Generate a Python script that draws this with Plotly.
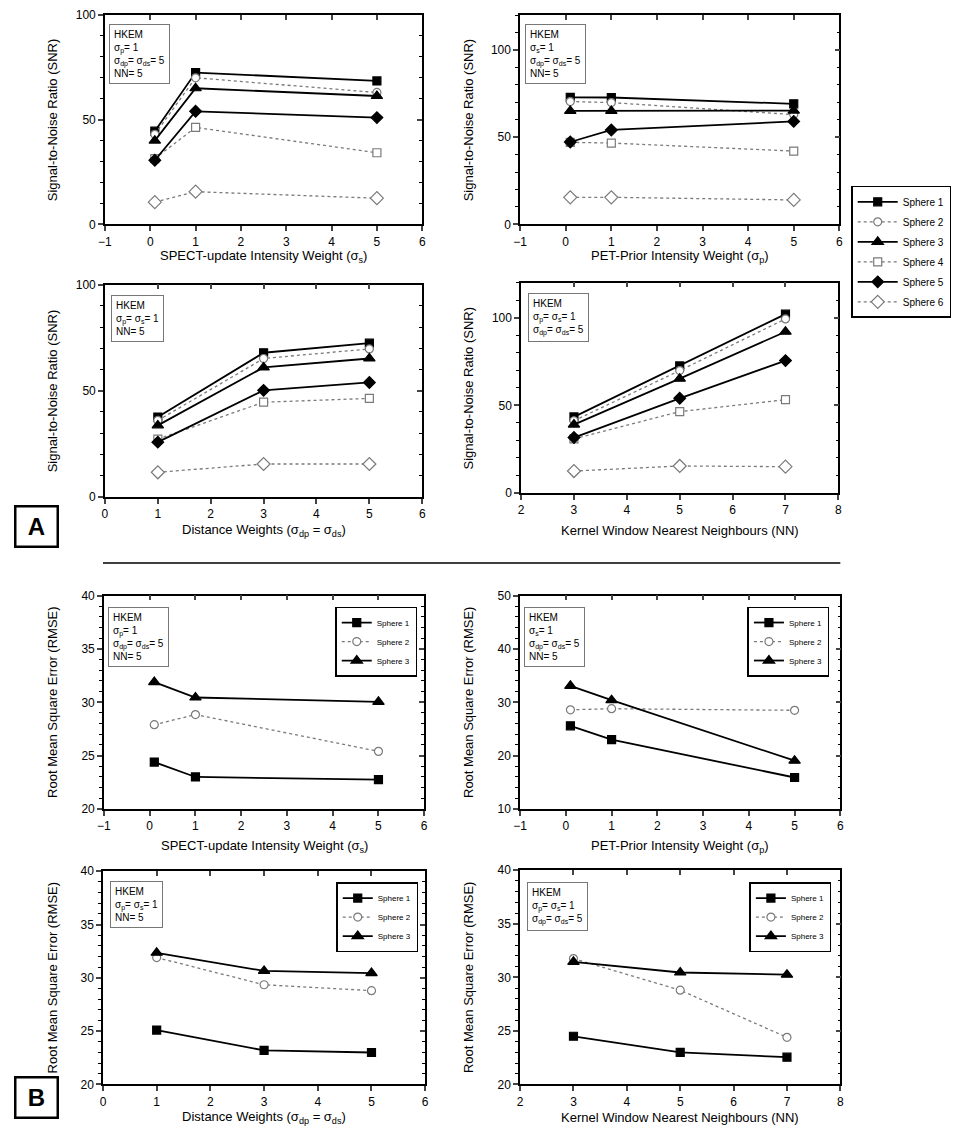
import plotly.graph_objects as go

# page body has an 8px margin, so the figure is a bit smaller and shifted
OFF = 8
W, H = 959 - OFF, 1138 - 2 * OFF

# ---- data ----
spheres = ["Sphere 1", "Sphere 2", "Sphere 3", "Sphere 4", "Sphere 5", "Sphere 6"]

x_sigma = [0.1, 1, 5]
x_dist = [1, 3, 5]
x_nn = [3, 5, 7]

# SNR, panel A
snr_spect = [
    [44.5, 72.5, 68.5],
    [43.0, 70.0, 63.0],
    [40.0, 65.0, 61.3],
    [31.4, 46.3, 34.2],
    [30.6, 54.0, 51.0],
    [10.6, 15.6, 12.5],
]
snr_pet = [
    [72.8, 72.7, 69.1],
    [70.4, 69.8, 62.9],
    [65.0, 65.0, 65.2],
    [47.0, 46.6, 42.0],
    [47.2, 54.1, 59.0],
    [15.5, 15.5, 14.0],
]
snr_dist = [
    [37.6, 67.9, 72.4],
    [36.0, 65.2, 69.7],
    [33.7, 61.0, 65.2],
    [27.2, 44.6, 46.4],
    [25.8, 50.2, 53.9],
    [11.6, 15.5, 15.5],
]
snr_nn = [
    [43.4, 72.5, 102.0],
    [41.2, 69.8, 99.3],
    [39.0, 65.2, 92.0],
    [30.9, 46.4, 53.2],
    [31.6, 54.0, 75.5],
    [12.5, 15.4, 15.0],
]

# RMSE, panel B
rmse_spect = [
    [24.4, 23.0, 22.75],
    [27.9, 28.85, 25.4],
    [31.9, 30.45, 30.05],
]
rmse_pet = [
    [25.6, 23.0, 15.9],
    [28.6, 28.8, 28.5],
    [33.1, 30.4, 19.05],
]
rmse_dist = [
    [25.1, 23.2, 23.0],
    [31.9, 29.35, 28.8],
    [32.35, 30.65, 30.45],
]
rmse_nn = [
    [24.5, 23.0, 22.55],
    [31.75, 28.8, 24.4],
    [31.45, 30.45, 30.25],
]

title_spect = "SPECT-update Intensity Weight (σ<sub>s</sub>)"
title_pet = "PET-Prior Intensity Weight (σ<sub>p</sub>)"
title_dist = "Distance Weights (σ<sub>dp</sub> = σ<sub>ds</sub>)"
title_nn = "Kernel Window Nearest Neighbours (NN)"
title_snr = "Signal-to-Noise Ratio (SNR)"
title_rmse = "Root Mean Square Error (RMSE)"

txt_spect = "HKEM<br>σ<sub>p</sub>= 1<br>σ<sub>dp</sub>= σ<sub>ds</sub>= 5<br>NN= 5"
txt_pet = "HKEM<br>σ<sub>s</sub>= 1<br>σ<sub>dp</sub>= σ<sub>ds</sub>= 5<br>NN= 5"
txt_dist = "HKEM<br>σ<sub>p</sub>= σ<sub>s</sub>= 1<br>NN= 5"
txt_nn = "HKEM<br>σ<sub>p</sub>= σ<sub>s</sub>= 1<br>σ<sub>dp</sub>= σ<sub>ds</sub>= 5"

# ---- styles ----
GREY = "#7a7a7a"
styles = [
    dict(symbol="square", fill="black", edge="black", dash="solid", lc="black", lw=1.8, size=8),
    dict(symbol="circle", fill="white", edge=GREY, dash="dot", lc=GREY, lw=1.3, size=8),
    dict(symbol="triangle-up", fill="black", edge="black", dash="solid", lc="black", lw=1.8, size=10),
    dict(symbol="square", fill="white", edge=GREY, dash="dot", lc=GREY, lw=1.3, size=8),
    dict(symbol="diamond", fill="black", edge="black", dash="solid", lc="black", lw=1.8, size=9),
    dict(symbol="diamond", fill="white", edge=GREY, dash="dot", lc=GREY, lw=1.3, size=10),
]

# panel boxes in reference pixels: left, right, top, bottom
panels = [
    dict(box=(99, 420, 8, 220), x=x_sigma, ys=snr_spect, xr=[-1, 6], yr=[0, 100], dy=50, my=10,
         xt=title_spect, yt=title_snr, txt=txt_spect, tpos=(103, 17), xty=253, leg="legend"),
    dict(box=(519, 842, 8, 220), x=x_sigma, ys=snr_pet, xr=[-1, 6], yr=[0, 120], dy=50, my=10,
         xt=title_pet, yt=title_snr, txt=txt_pet, tpos=(524, 17), xty=253, leg=None),
    dict(box=(99, 420, 281, 496), x=x_dist, ys=snr_dist, xr=[0, 6], yr=[0, 100], dy=50, my=10,
         xt=title_dist, yt=title_snr, txt=txt_dist, tpos=(105, 292), xty=530, leg=None),
    dict(box=(520, 841, 279, 492), x=x_nn, ys=snr_nn, xr=[2, 8], yr=[0, 120], dy=50, my=10,
         xt=title_nn, yt=title_snr, txt=txt_nn, tpos=(527, 290), xty=530, leg=None),
    dict(box=(98, 422, 596, 812), x=x_sigma, ys=rmse_spect, xr=[-1, 6], yr=[20, 40], dy=5, my=1,
         xt=title_spect, yt=title_rmse, txt=txt_spect, tpos=(102, 607), xty=850, leg="legend2",
         lpos=(332, 607)),
    dict(box=(519, 843, 596, 812), x=x_sigma, ys=rmse_pet, xr=[-1, 6], yr=[10, 50], dy=10, my=2,
         xt=title_pet, yt=title_rmse, txt=txt_pet, tpos=(523, 607), xty=850, leg="legend3",
         lpos=(749, 607)),
    dict(box=(97, 423, 875, 1091), x=x_dist, ys=rmse_dist, xr=[0, 6], yr=[20, 40], dy=5, my=1,
         xt=title_dist, yt=title_rmse, txt=txt_dist, tpos=(104, 885), xty=1124, leg="legend4",
         lpos=(333, 886)),
    dict(box=(519, 843, 874, 1091), x=x_nn, ys=rmse_nn, xr=[2, 8], yr=[20, 40], dy=5, my=1,
         xt=title_nn, yt=title_rmse, txt=txt_nn, tpos=(526, 886), xty=1124, leg="legend5",
         lpos=(751, 886)),
]

FONT = "Arial, Liberation Sans, Helvetica, sans-serif"


def px(v):
    return min(1.0, max(0.0, (v - OFF) / W))


def py(v):
    return min(1.0, max(0.0, 1 - (v - OFF) / H))


fig = go.Figure()
layout = {}
annotations = []

for i, p in enumerate(panels, start=1):
    l, r, t, b = p["box"]
    sfx = "" if i == 1 else str(i)
    j = i + 8
    base = dict(showgrid=False, zeroline=False, showline=True,
                linecolor="black", linewidth=1.5)
    layout["xaxis" + sfx] = dict(base, range=p["xr"], domain=[px(l), px(r)], anchor="y" + sfx,
                                 dtick=1, tick0=0, ticks="outside", ticklen=5, tickwidth=1.5,
                                 tickfont=dict(size=12, color="black"))
    layout["yaxis" + sfx] = dict(base, range=p["yr"], domain=[py(b), py(t)], anchor="x" + sfx,
                                 dtick=p["dy"], tick0=0, ticks="outside", ticklen=5, tickwidth=1.5,
                                 tickfont=dict(size=12, color="black"),
                                 minor=dict(dtick=p["my"], ticks="outside", ticklen=3,
                                            tickwidth=1, tickcolor="black"))
    # mirrored top / right axes with inward ticks
    layout["xaxis%d" % j] = dict(base, range=p["xr"], overlaying="x" + sfx, anchor="y" + sfx,
                                 side="top", dtick=1, tick0=0, ticks="inside", ticklen=5,
                                 tickwidth=1.5, showticklabels=False)
    layout["yaxis%d" % j] = dict(base, range=p["yr"], overlaying="y" + sfx, anchor="x" + sfx,
                                 side="right", dtick=p["dy"], tick0=0, ticks="inside",
                                 ticklen=5, tickwidth=1.5, showticklabels=False,
                                 minor=dict(dtick=p["my"], ticks="inside", ticklen=3,
                                            tickwidth=1, tickcolor="black"))
    fig.add_trace(go.Scatter(x=[None], y=[None], xaxis="x%d" % j, yaxis="y" + sfx,
                             showlegend=False, hoverinfo="skip"))
    fig.add_trace(go.Scatter(x=[None], y=[None], xaxis="x" + sfx, yaxis="y%d" % j,
                             showlegend=False, hoverinfo="skip"))

    for k, yv in enumerate(p["ys"]):
        s = styles[k]
        show = p["leg"] is not None
        fig.add_trace(go.Scatter(
            x=p["x"], y=yv, name=spheres[k], mode="lines+markers",
            xaxis="x" + sfx, yaxis="y" + sfx,
            line=dict(color=s["lc"], width=s["lw"], dash=s["dash"]),
            marker=dict(symbol=s["symbol"], size=s["size"], color=s["fill"],
                        line=dict(color=s["edge"], width=1.2)),
            showlegend=show, legend=p["leg"] if show else "legend",
            legendgroup="%s_%d" % (p["leg"] or "legend", k),
        ))

    # text box
    annotations.append(dict(
        x=px(p["tpos"][0]), y=py(p["tpos"][1]), xref="paper", yref="paper",
        xanchor="left", yanchor="top", align="left", showarrow=False,
        text=p["txt"], font=dict(family=FONT, size=10, color="black"),
        bordercolor="#777", borderwidth=1, borderpad=4, bgcolor="white"))
    # axis titles
    annotations.append(dict(
        x=px((l + r) / 2), y=py(p["xty"]), xref="paper", yref="paper",
        xanchor="center", yanchor="middle", showarrow=False, text=p["xt"],
        font=dict(family=FONT, size=13, color="black")))
    annotations.append(dict(
        x=px(46 if l < 300 else 467), y=py((t + b) / 2), xref="paper", yref="paper",
        xanchor="center", yanchor="middle", showarrow=False, text=p["yt"], textangle=-90,
        font=dict(family=FONT, size=13, color="black")))

# legends
layout["legend"] = dict(x=px(854), y=py(181), xanchor="left", yanchor="top",
                        bordercolor="black", borderwidth=1.5, bgcolor="white",
                        font=dict(family=FONT, size=10, color="black"), tracegroupgap=1,
                        itemwidth=40)
for p in panels[4:]:
    layout[p["leg"]] = dict(x=px(p["lpos"][0]), y=py(p["lpos"][1]), xanchor="left",
                            yanchor="top", bordercolor="black", borderwidth=1.5,
                            bgcolor="white", font=dict(family=FONT, size=8, color="black"),
                            tracegroupgap=0, itemwidth=30)

# panel letters
for letter, cy in [("A", 526), ("B", 1104)]:
    annotations.append(dict(
        x=px(30), y=py(cy), xref="paper", yref="paper", xanchor="center", yanchor="middle",
        showarrow=False, text="<b>%s</b>" % letter, width=36, height=34,
        font=dict(family=FONT, size=24, color="black"),
        bordercolor="black", borderwidth=2.5, borderpad=2, bgcolor="white"))

fig.update_layout(
    **layout,
    annotations=annotations,
    shapes=[dict(type="line", xref="paper", yref="paper", x0=px(97), x1=px(843),
                 y0=py(563), y1=py(563), line=dict(color="black", width=1.5))],
    width=W, height=H, margin=dict(l=0, r=0, t=0, b=0),
    paper_bgcolor="white", plot_bgcolor="white",
    font=dict(family=FONT, color="black"),
)

fig.write_html("out.html")
